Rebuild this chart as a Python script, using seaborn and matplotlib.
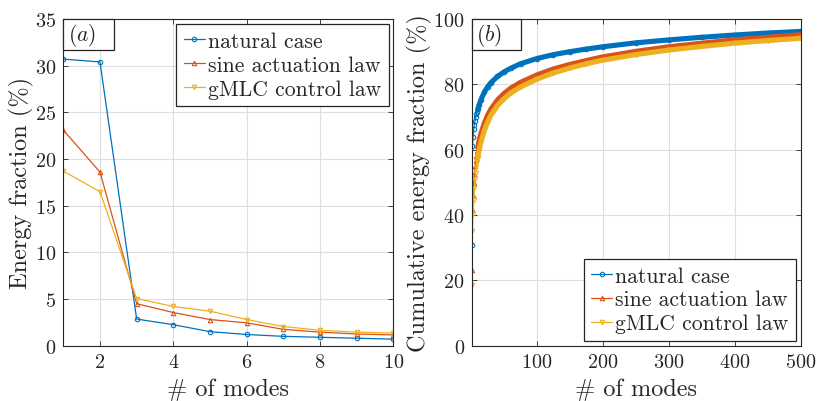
import matplotlib
matplotlib.use("Agg")
import matplotlib.pyplot as plt
from matplotlib.patches import Rectangle
import pandas as pd
import seaborn as sns

# Energy fraction (%) carried by each of the first ten POD modes
modes_a = [1, 2, 3, 4, 5, 6, 7, 8, 9, 10]
natural_frac = [30.7, 30.4, 2.85, 2.25, 1.5, 1.2, 1.0, 0.9, 0.8, 0.7]
sine_frac = [23.1, 18.6, 4.5, 3.55, 2.8, 2.45, 1.75, 1.45, 1.25, 1.15]
gmlc_frac = [18.7, 16.5, 5.05, 4.2, 3.7, 2.8, 2.05, 1.65, 1.45, 1.35]

# Cumulative energy fraction (%) against the number of modes kept
modes_b = [1, 2, 3, 4, 5, 6, 7, 8, 9, 10, 12, 15, 20, 25, 30, 40, 50, 60,
           75, 100, 125, 150, 175, 200, 250, 300, 350, 400, 450, 500]
natural_cum = [30.7, 61.1, 63.95, 66.2, 67.7, 68.9, 69.9, 70.8, 71.6, 72.3,
               73.6, 75.3, 77.6, 79.2, 80.5, 82.4, 83.8, 84.9, 86.3, 87.9,
               89.1, 90.0, 90.8, 91.5, 92.7, 93.6, 94.4, 95.1, 95.7, 96.2]
sine_cum = [23.1, 41.7, 46.2, 49.75, 52.55, 55.0, 56.75, 58.2, 59.45, 60.6,
            62.6, 65.0, 68.1, 70.5, 72.4, 75.2, 77.2, 78.8, 80.6, 82.9,
            84.7, 86.1, 87.3, 88.4, 90.1, 91.5, 92.6, 93.6, 94.4, 95.2]
gmlc_cum = [18.7, 35.2, 40.25, 44.45, 48.15, 50.95, 53.0, 54.65, 56.1, 57.45,
            59.7, 62.4, 65.8, 68.4, 70.5, 73.5, 75.6, 77.3, 79.2, 81.6,
            83.5, 85.0, 86.3, 87.4, 89.1, 90.5, 91.6, 92.6, 93.4, 94.1]

case_names = ["natural case", "sine actuation law", "gMLC control law"]
case_colors = ["#0072BD", "#D95319", "#EDB120"]
case_markers = ["o", "^", "v"]

sns.set_style("ticks")
plt.rcParams.update({
    "font.family": "serif",
    "font.serif": ["cmr10", "DejaVu Serif"],
    "mathtext.fontset": "cm",
    "axes.formatter.use_mathtext": True,
    "axes.unicode_minus": False,
    "axes.edgecolor": "#262626",
    "axes.linewidth": 0.8,
    "xtick.direction": "in",
    "ytick.direction": "in",
    "xtick.top": True,
    "ytick.right": True,
    "xtick.major.size": 3.5,
    "ytick.major.size": 3.5,
    "xtick.major.width": 0.6,
    "ytick.major.width": 0.6,
    "xtick.color": "#262626",
    "ytick.color": "#262626",
    "xtick.labelcolor": "#262626",
    "ytick.labelcolor": "#262626",
    "xtick.labelsize": 14.5,
    "ytick.labelsize": 14.5,
    "axes.labelsize": 17.5,
    "axes.labelcolor": "#262626",
})

frac_df = pd.DataFrame({
    "mode": modes_a * 3,
    "value": natural_frac + sine_frac + gmlc_frac,
    "case": [c for c in case_names for _ in modes_a],
})
cum_df = pd.DataFrame({
    "mode": modes_b * 3,
    "value": natural_cum + sine_cum + gmlc_cum,
    "case": [c for c in case_names for _ in modes_b],
})

fig = plt.figure(figsize=(8.19, 4.02), dpi=100)
ax_a = fig.add_axes([0.0773, 0.1376, 0.4030, 0.8127])
ax_b = fig.add_axes([0.5760, 0.1376, 0.4017, 0.8127])


def panel_tag(ax, text, w, h, tx):
    ax.add_patch(Rectangle((0, 1 - h), w, h, transform=ax.transAxes,
                           facecolor="white", edgecolor="#262626",
                           linewidth=0.9, clip_on=False, zorder=10))
    ax.text(tx, 1 - h / 2, text, transform=ax.transAxes, ha="left",
            va="center", fontsize=15.5, zorder=11, color="#262626")


def style_legend(ax, loc):
    leg = ax.legend(loc=loc, fontsize=15.6, frameon=True, fancybox=False,
                    framealpha=1, edgecolor="#262626", handlelength=0.95,
                    handletextpad=0.15, labelspacing=0.2, borderpad=0.35,
                    borderaxespad=0.22)
    leg.get_frame().set_linewidth(0.9)
    leg.set_zorder(12)
    for t in leg.get_texts():
        t.set_color("#262626")


# (a) energy fraction per mode
for name, col, mk in zip(case_names, case_colors, case_markers):
    sub = frac_df[frac_df["case"] == name]
    sns.lineplot(data=sub, x="mode", y="value", ax=ax_a, color=col,
                 marker=mk, markersize=3.2, mfc="none", mec=col, mew=0.8,
                 linewidth=0.9, label=name)
ax_a.set_xlim(1, 10)
ax_a.set_ylim(0, 35)
ax_a.set_xticks([2, 4, 6, 8, 10])
ax_a.set_yticks(range(0, 36, 5))
ax_a.set_xlabel("# of modes")
ax_a.set_ylabel("Energy fraction (%)")
style_legend(ax_a, "upper right")
panel_tag(ax_a, "$(a)$", 0.1545, 0.095, 0.015)

# (b) cumulative energy fraction; dense mode markers appear as a thick band
for name, col, mk in zip(case_names, case_colors, case_markers):
    sub = cum_df[cum_df["case"] == name]
    sns.lineplot(data=sub, x="mode", y="value", ax=ax_b, color=col,
                 marker=mk, markersize=3.2, mfc="none", mec=col, mew=0.8,
                 linewidth=0.9, label=name)
    band = sub[sub["mode"] >= 10]
    sns.lineplot(data=band, x="mode", y="value", ax=ax_b, color=col,
                 linewidth=3.7, solid_capstyle="round", legend=False)
ax_b.set_xlim(1, 500)
ax_b.set_ylim(0, 100)
ax_b.set_xticks([100, 200, 300, 400, 500])
ax_b.set_yticks(range(0, 101, 20))
ax_b.set_xlabel("# of modes")
ax_b.set_ylabel("Cumulative energy fraction (%)")
style_legend(ax_b, "lower right")
panel_tag(ax_b, "$(b)$", 0.149, 0.094, 0.012)

for ax in (ax_a, ax_b):
    ax.grid(True, color="#dedede", linewidth=0.8)
    ax.set_axisbelow(True)
    ax.xaxis.labelpad = 5
    ax.yaxis.labelpad = 1
    ax.tick_params(pad=5)

fig.savefig("out.png", dpi=100)
